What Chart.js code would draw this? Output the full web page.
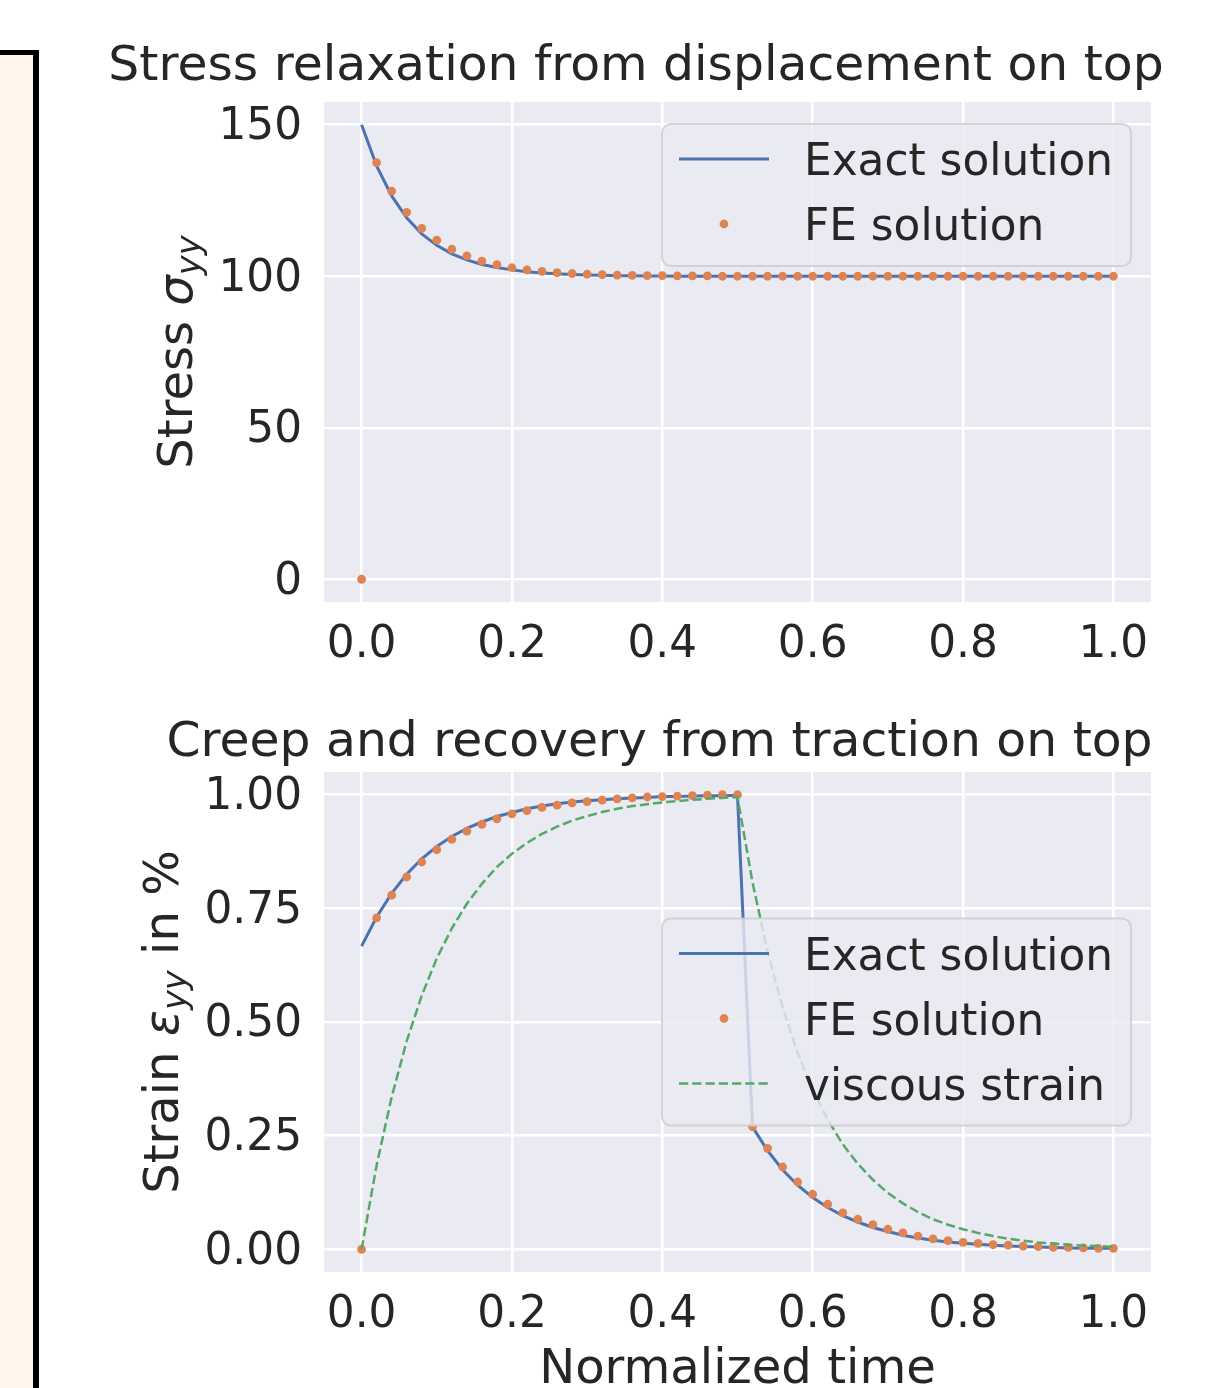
<!DOCTYPE html>
<html>
<head>
<meta charset="utf-8">
<script src="https://cdn.jsdelivr.net/npm/chart.js@4.4.1/dist/chart.umd.min.js"></script>
<style>
html, body { margin: 0; padding: 0; background: #fff; width: 1206px; height: 1388px; overflow: hidden; }
#panel { position: absolute; left: -10px; top: 50px; width: 43px; height: 1400px; background: #fff5eb;
         border-top: 5px solid #000; border-right: 6px solid #000; }
canvas { position: absolute; left: 0; }
</style>
</head>
<body>
<div id="panel"></div>
<canvas id="relaxChart" width="1206" height="694" style="top:0"></canvas>
<canvas id="creepChart" width="1206" height="694" style="top:694px"></canvas>
<script>
// normalized time grid used by both runs
var times = [0, 0.02, 0.04, 0.06, 0.08, 0.1, 0.12, 0.14, 0.16, 0.18, 0.2, 0.22, 0.24, 0.26, 0.28, 0.3,
    0.32, 0.34, 0.36, 0.38, 0.4, 0.42, 0.44, 0.46, 0.48, 0.5, 0.52, 0.54, 0.56, 0.58, 0.6, 0.62, 0.64,
    0.66, 0.68, 0.7, 0.72, 0.74, 0.76, 0.78, 0.8, 0.82, 0.84, 0.86, 0.88, 0.9, 0.92, 0.94, 0.96, 0.98, 1.0];

// stress relaxation (top)
var relaxExact = [150, 136.4, 126.5, 119.3, 114.0, 110.2, 107.4, 105.4, 103.9, 102.9, 102.1, 101.5, 101.1,
    100.8, 100.6, 100.4, 100.3, 100.2, 100.2, 100.1, 100.1,
    100, 100, 100, 100, 100, 100, 100, 100, 100, 100, 100, 100, 100, 100, 100,
    100, 100, 100, 100, 100, 100, 100, 100, 100, 100, 100, 100, 100, 100, 100];
var relaxFE = [0, 137.5, 128.1, 121.1, 115.8, 111.9, 108.9, 106.7, 105.0, 103.8, 102.8, 102.1, 101.6,
    101.2, 100.9, 100.7, 100.5, 100.4, 100.3, 100.2, 100.2, 100.1, 100.1, 100.1,
    100, 100, 100, 100, 100, 100, 100, 100, 100, 100, 100, 100, 100, 100,
    100, 100, 100, 100, 100, 100, 100, 100, 100, 100, 100, 100, 100];

// creep and recovery (bottom)
var creepExact = [0.667, 0.731, 0.783, 0.825, 0.859, 0.886, 0.908, 0.926, 0.940, 0.952, 0.961, 0.969, 0.975,
    0.980, 0.984, 0.987, 0.989, 0.991, 0.993, 0.994, 0.996, 0.996, 0.997, 0.998, 0.998, 0.999,
    0.269, 0.217, 0.175, 0.141, 0.114, 0.092, 0.074, 0.060, 0.048, 0.039, 0.031, 0.025, 0.020,
    0.016, 0.013, 0.011, 0.009, 0.007, 0.006, 0.005, 0.004, 0.003, 0.002, 0.002, 0.002];
var creepFE = [0, 0.729, 0.779, 0.819, 0.852, 0.879, 0.902, 0.920, 0.935, 0.947, 0.958, 0.965, 0.972,
    0.977, 0.982, 0.985, 0.988, 0.991, 0.993, 0.995, 0.996, 0.997, 0.998, 0.999, 1.000, 1.000,
    0.270, 0.222, 0.181, 0.148, 0.121, 0.099, 0.080, 0.066, 0.054, 0.044, 0.036, 0.029, 0.023,
    0.019, 0.015, 0.013, 0.010, 0.009, 0.007, 0.006, 0.004, 0.004, 0.003, 0.002, 0.002];
var creepViscous = [0, 0.185, 0.335, 0.458, 0.558, 0.640, 0.706, 0.760, 0.804, 0.841, 0.870, 0.894, 0.914,
    0.930, 0.943, 0.953, 0.962, 0.969, 0.975, 0.979, 0.983, 0.986, 0.989, 0.991, 0.993, 0.995,
    0.807, 0.655, 0.532, 0.432, 0.351, 0.285, 0.231, 0.188, 0.153, 0.124, 0.101, 0.082, 0.066,
    0.054, 0.044, 0.036, 0.029, 0.023, 0.019, 0.015, 0.013, 0.010, 0.008, 0.007, 0.005];

var timeTicks = [0, 0.2, 0.4, 0.6, 0.8, 1.0];
var stressTicks = [0, 50, 100, 150];
var strainTicks = [0, 0.25, 0.5, 0.75, 1.0];

(function () {
    var BLUE = '#4c72b0', ORANGE = '#dd8452', GREEN = '#55a868';
    var INK = '#262626', FACE = '#eaeaf2';
    var FAMILY = '"DejaVu Sans", sans-serif';
    var TICK_PX = 43.8, LABEL_PX = 48.1, TITLE_PX = 48.8;

    function pts(ys) {
        return times.map(function (t, i) { return { x: t, y: ys[i] }; });
    }
    function font(px, italic) {
        return (italic ? 'italic ' : '') + px.toFixed(1) + 'px ' + FAMILY;
    }

    // seaborn-ish axes face
    var facePlugin = {
        id: 'axesFace',
        beforeDraw: function (chart) {
            var a = chart.chartArea, ctx = chart.ctx;
            ctx.save();
            ctx.fillStyle = FACE;
            ctx.fillRect(a.left, a.top, a.right - a.left, a.bottom - a.top);
            ctx.restore();
        }
    };

    function drawYLabel(ctx, segs, bx, cy) {
        ctx.save();
        ctx.translate(bx, cy);
        ctx.rotate(-Math.PI / 2);
        ctx.fillStyle = INK;
        ctx.textAlign = 'left';
        ctx.textBaseline = 'alphabetic';
        var total = 0;
        segs.forEach(function (s) {
            ctx.font = font(s.sub ? LABEL_PX * 0.7 : LABEL_PX, s.it);
            s.w = ctx.measureText(s.t).width;
            total += s.w;
        });
        var x = -total / 2;
        segs.forEach(function (s) {
            ctx.font = font(s.sub ? LABEL_PX * 0.7 : LABEL_PX, s.it);
            ctx.fillText(s.t, x, s.sub ? 8 : 0);
            x += s.w;
        });
        ctx.restore();
    }

    function drawLegend(chart, place) {
        var ctx = chart.ctx, a = chart.chartArea;
        var items = chart.data.datasets;
        var w = 469, rowH = 65, h = 35 + (items.length - 1) * rowH + 42;
        var right = a.right - 20, left = right - w;
        var top = place === 'upper right' ? a.top + 22 : (a.top + a.bottom) / 2 - h / 2;
        var r = 9;
        ctx.save();
        ctx.beginPath();
        ctx.moveTo(left + r, top);
        ctx.arcTo(right, top, right, top + h, r);
        ctx.arcTo(right, top + h, left, top + h, r);
        ctx.arcTo(left, top + h, left, top, r);
        ctx.arcTo(left, top, right, top, r);
        ctx.closePath();
        ctx.fillStyle = 'rgba(234,234,242,0.8)';
        ctx.fill();
        ctx.strokeStyle = 'rgba(204,204,204,0.8)';
        ctx.lineWidth = 2;
        ctx.stroke();
        items.forEach(function (ds, i) {
            var y = top + 35 + i * rowH;
            if (ds.showLine === false) {
                ctx.beginPath();
                ctx.arc(left + 62, y, ds.pointRadius, 0, Math.PI * 2);
                ctx.fillStyle = ds.pointBackgroundColor;
                ctx.fill();
            } else {
                ctx.beginPath();
                ctx.setLineDash(ds.borderDash || []);
                ctx.strokeStyle = ds.borderColor;
                ctx.lineWidth = ds.borderWidth;
                ctx.moveTo(left + 17, y);
                ctx.lineTo(left + 107, y);
                ctx.stroke();
                ctx.setLineDash([]);
            }
            ctx.fillStyle = INK;
            ctx.font = font(TICK_PX, false);
            ctx.textAlign = 'left';
            ctx.textBaseline = 'alphabetic';
            ctx.fillText(ds.label, left + 142, y + 16);
        });
        ctx.restore();
    }

    function textPlugin(cfg) {
        return {
            id: 'mplText',
            afterDraw: function (chart) {
                var ctx = chart.ctx, a = chart.chartArea;
                ctx.save();
                ctx.fillStyle = INK;
                ctx.textAlign = 'center';
                ctx.textBaseline = 'alphabetic';
                ctx.font = font(TITLE_PX, false);
                ctx.fillText(cfg.title, cfg.titleX, cfg.titleY);
                if (cfg.xlabel) {
                    ctx.font = font(LABEL_PX, false);
                    ctx.fillText(cfg.xlabel, (a.left + a.right) / 2, cfg.xlabelY);
                }
                ctx.restore();
                drawYLabel(ctx, cfg.ylabel, cfg.ylabelX, (a.top + a.bottom) / 2);
                drawLegend(chart, cfg.legend);
            }
        };
    }

    function axes(xTicks, yTicks, yMin, yMax, xFmt, yFmt, xHeight) {
        var tickFont = { family: FAMILY, size: TICK_PX, lineHeight: 1 };
        return {
            x: {
                type: 'linear', min: -0.05, max: 1.05,
                afterBuildTicks: function (s) { s.ticks = xTicks.map(function (v) { return { value: v }; }); },
                afterFit: function (s) { s.height = xHeight; },
                grid: { color: '#ffffff', lineWidth: 2.5, drawTicks: false },
                border: { display: false },
                ticks: { padding: 21.5, font: tickFont, color: INK, maxRotation: 0, autoSkip: false,
                         callback: function (v) { return xFmt(v); } }
            },
            y: {
                type: 'linear', min: yMin, max: yMax,
                afterBuildTicks: function (s) { s.ticks = yTicks.map(function (v) { return { value: v }; }); },
                afterFit: function (s) { s.width = 324; },
                grid: { color: '#ffffff', lineWidth: 2.5, drawTicks: false },
                border: { display: false },
                ticks: { padding: 22, labelOffset: 3, font: tickFont, color: INK, autoSkip: false,
                         callback: function (v) { return yFmt(v); } }
            }
        };
    }

    function lineSet(label, ys, color, width, dash, order) {
        return { label: label, data: pts(ys), borderColor: color, borderWidth: width, borderDash: dash,
                 pointRadius: 0, fill: false, tension: 0, order: order };
    }
    function dotSet(label, ys, order) {
        return { label: label, data: pts(ys), showLine: false, pointRadius: 4.4, pointBorderWidth: 0,
                 pointBackgroundColor: ORANGE, borderColor: ORANGE, order: order };
    }

    var common = {
        responsive: false, animation: false, events: [],
        plugins: { legend: { display: false }, tooltip: { enabled: false }, title: { display: false } }
    };

    function fmt1(v) { return v.toFixed(1); }

    new Chart(document.getElementById('relaxChart'), {
        type: 'line',
        data: { datasets: [
            lineSet('Exact solution', relaxExact, BLUE, 3, [], 2),
            dotSet('FE solution', relaxFE, 1)
        ] },
        options: Object.assign({}, common, {
            layout: { padding: { left: 0, right: 55, top: 102, bottom: 0 } },
            scales: axes(timeTicks, stressTicks, -7.5, 157.5, fmt1, function (v) { return String(v); }, 92)
        }),
        plugins: [facePlugin, textPlugin({
            title: 'Stress relaxation from displacement on top', titleX: 636, titleY: 80,
            ylabel: [{ t: 'Stress ' }, { t: '\u03c3', it: true }, { t: 'yy', it: true, sub: true }],
            ylabelX: 191.7, legend: 'upper right'
        })]
    });

    new Chart(document.getElementById('creepChart'), {
        type: 'line',
        data: { datasets: [
            lineSet('Exact solution', creepExact, BLUE, 3, [], 3),
            dotSet('FE solution', creepFE, 2),
            lineSet('viscous strain', creepViscous, GREEN, 2.5, [9.25, 4], 1)
        ] },
        options: Object.assign({}, common, {
            layout: { padding: { left: 0, right: 55, top: 78, bottom: 0 } },
            scales: axes(timeTicks, strainTicks, -0.05, 1.05, fmt1, function (v) { return v.toFixed(2); }, 116)
        }),
        plugins: [facePlugin, textPlugin({
            title: 'Creep and recovery from traction on top', titleX: 659.5, titleY: 62,
            xlabel: 'Normalized time', xlabelY: 689,
            ylabel: [{ t: 'Strain ' }, { t: '\u03b5', it: true }, { t: 'yy', it: true, sub: true }, { t: ' in %' }],
            ylabelX: 178.3, legend: 'center right'
        })]
    });
})();
</script>
</body>
</html>
